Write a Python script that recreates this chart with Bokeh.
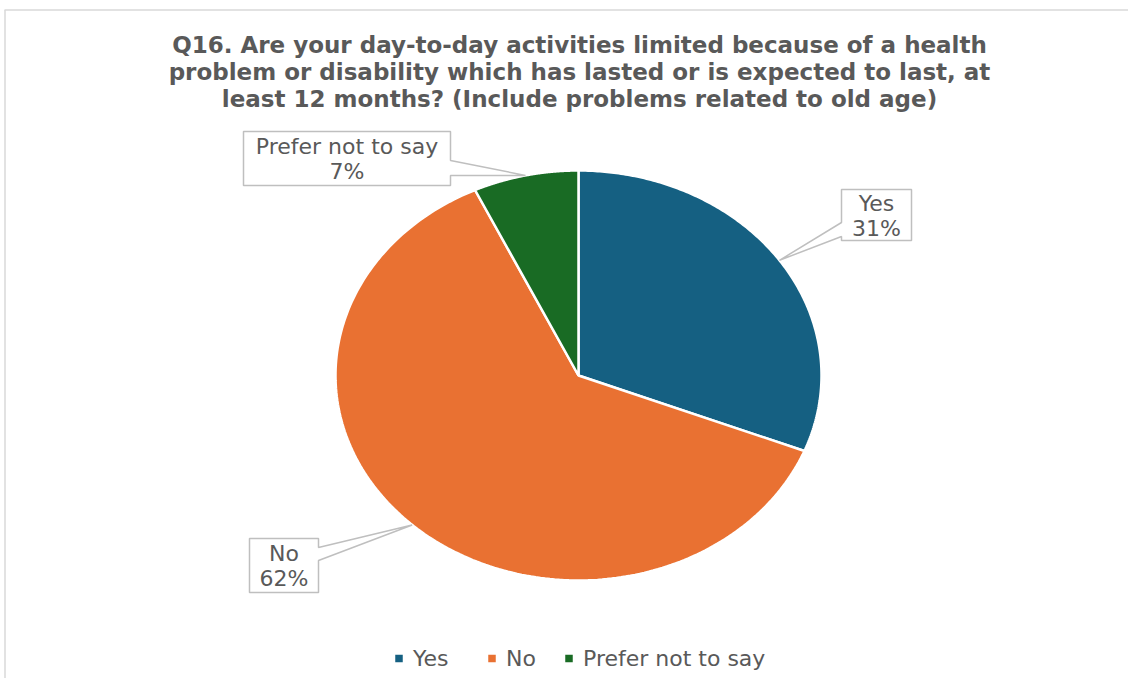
import numpy as np
from bokeh.plotting import figure
from bokeh.models import Range1d
from bokeh.core.properties import value
from bokeh.embed import file_html
from bokeh.resources import INLINE

# ---- data ----
title_lines = [
    "Q16. Are your day-to-day activities limited because of a health",
    "problem or disability which has lasted or is expected to last, at",
    "least 12 months? (Include problems related to old age)",
]
categories = ["Yes", "No", "Prefer not to say"]
percent = [31, 62, 7]
colors = ["#156082", "#E97132", "#196B24"]

# ---- layout ----
W, H = 1128, 678
p = figure(width=W, height=H, x_range=Range1d(0, W), y_range=Range1d(H, 0),
           output_backend="svg", toolbar_location=None, min_border=0,
           x_axis_type=None, y_axis_type=None)
p.grid.visible = False
p.outline_line_color = None
p.background_fill_color = "white"
p.border_fill_color = "white"

FONT = value("DejaVu Sans")
GREY = "#595959"

# chart-area frame (top and left edges visible)
p.segment(x0=[4, 4.5], y0=[9.5, 9.5], x1=[W, 4.5], y1=[9.5, H],
          line_color="#D9D9D9", line_width=1.5)

# title
p.text(x=[579] * 3, y=[44, 71, 98], text=title_lines, text_align="center",
       text_baseline="middle", text_font=FONT, text_font_style="bold",
       text_color=GREY, text_font_size="23px")

# pie (elliptical, drawn clockwise from 12 o'clock)
cx, cy, rx, ry = 578, 375, 243, 205
total = float(sum(percent))
start = np.pi / 2
xs, ys, mids = [], [], []
for v in percent:
    end = start - v / total * 2 * np.pi
    th = np.linspace(start, end, 200)
    xs.append(list(np.r_[cx, cx + rx * np.cos(th)]))
    ys.append(list(np.r_[cy, cy - ry * np.sin(th)]))
    mids.append((start + end) / 2)
    start = end
p.patches(xs=xs, ys=ys, fill_color=colors, line_color="white", line_width=2.5)

# callouts: box (x0, x1, y0, y1), side of pointer, pointer base (ya, yb)
boxes = {
    "Yes": ((841, 911, 189, 240), "left", (222, 236)),
    "No": ((249, 318, 538, 592), "right", (547, 560)),
    "Prefer not to say": ((243, 450, 131, 185), "right", (160, 175)),
}
cxs, cys, ttop, tbot = [], [], [], []
for cat, v, m in zip(categories, percent, mids):
    (x0, x1, y0, y1), side, (ya, yb) = boxes[cat]
    tx, ty = cx + rx * np.cos(m), cy - ry * np.sin(m)
    if side == "right":
        px = [x0, x1, x1, tx, x1, x1, x0]
        py = [y0, y0, ya, ty, yb, y1, y1]
    else:
        px = [x0, x1, x1, x0, x0, tx, x0]
        py = [y0, y0, y1, y1, yb, ty, ya]
    p.patch(px, py, fill_color="white", line_color="#BFBFBF", line_width=1.5)
    xm, ymid = (x0 + x1) / 2, (y0 + y1) / 2
    cxs.append(xm); cys.append(ymid)
    ttop.append(cat); tbot.append(f"{v}%")
p.text(x=cxs, y=[y - 12 for y in cys], text=ttop, text_align="center", text_baseline="middle",
       text_font=FONT, text_color=GREY, text_font_size="22px")
p.text(x=cxs, y=[y + 13 for y in cys], text=tbot, text_align="center", text_baseline="middle",
       text_font=FONT, text_color=GREY, text_font_size="22px")

# legend
leg_x = [398.5, 491.5, 568.5]
p.scatter(x=leg_x, y=[658] * 3, marker="square", size=7.5, fill_color=colors, line_color=None)
p.text(x=[x + 14 for x in leg_x], y=[658] * 3, text=categories, text_align="left",
       text_baseline="middle", text_font=FONT, text_color=GREY, text_font_size="22px")

open("out.html", "w").write(file_html(p, INLINE))
